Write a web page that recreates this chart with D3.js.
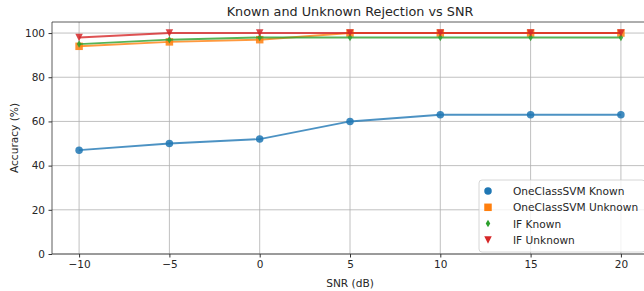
<!DOCTYPE html>
<html><head><meta charset="utf-8">
<script src="https://cdn.jsdelivr.net/npm/d3@7"></script>
<style>body{margin:0;background:#fff;}svg{display:block;font-family:"DejaVu Sans",sans-serif;}</style>
</head><body><svg id="c" width="644" height="291"></svg>
<script>
const snr = [-10, -5, 0, 5, 10, 15, 20];
const ocsvmKnown = [47, 50, 52, 60, 63, 63, 63];
const ocsvmUnknown = [94, 96, 97, 100, 100, 100, 100];
const ifKnown = [95, 97, 98, 98, 98, 98, 98];
const ifUnknown = [98, 100, 100, 100, 100, 100, 100];
const xTicks = [-10, -5, 0, 5, 10, 15, 20];
const yTicks = [0, 20, 40, 60, 80, 100];
const seriesNames = ["OneClassSVM Known", "OneClassSVM Unknown", "IF Known", "IF Unknown"];
const title = "Known and Unknown Rejection vs SNR";
const xLabel = "SNR (dB)";
const yLabel = "Accuracy (%)";

const colors = ["#1f77b4", "#ff7f0e", "#2ca02c", "#d62728"];
const markers = ["circle", "square", "thindiamond", "tridown"];
const series = [ocsvmKnown, ocsvmUnknown, ifKnown, ifUnknown];

const svg = d3.select("#c");
const L = 52, R = 648, T = 22, B = 254;
const x = d3.scaleLinear().domain([-11.5, 21.5]).range([L, R]);
const y = d3.scaleLinear().domain([0, 105]).range([B, T]);

const g = svg.append("g");
g.selectAll("line.gx").data(xTicks).join("line")
  .attr("x1", d => x(d)).attr("x2", d => x(d)).attr("y1", T).attr("y2", B)
  .attr("stroke", "#b0b0b0").attr("stroke-width", 0.8);
g.selectAll("line.gy").data(yTicks).join("line")
  .attr("x1", L).attr("x2", R).attr("y1", d => y(d)).attr("y2", d => y(d))
  .attr("stroke", "#b0b0b0").attr("stroke-width", 0.8);

function markerPath(type, s) {
  const h = s / 2;
  if (type === "circle") return d3.symbol(d3.symbolCircle, Math.PI * h * h)();
  if (type === "square") return `M${-h},${-h}H${h}V${h}H${-h}Z`;
  if (type === "thindiamond") return `M0,${-h}L${h*0.6},0L0,${h}L${-h*0.6},0Z`;
  if (type === "tridown") return `M${-h},${-h}L${h},${-h}L0,${h}Z`;
}

const line = d3.line().x((d, i) => x(snr[i])).y(d => y(d));
series.forEach((vals, k) => {
  const sg = svg.append("g");
  sg.append("path").datum(vals).attr("d", line)
    .attr("fill", "none").attr("stroke", colors[k]).attr("stroke-width", 1.9)
    .attr("stroke-opacity", 0.8);
  sg.selectAll("path.m").data(vals).join("path")
    .attr("transform", (d, i) => `translate(${x(snr[i])},${y(d)})`)
    .attr("d", markerPath(markers[k], 7.5))
    .attr("fill", colors[k]).attr("fill-opacity", 0.85);
});

const xAxis = d3.axisBottom(x).tickValues(xTicks).tickSize(3.5).tickPadding(3.5)
  .tickFormat(d => d < 0 ? "\u2212" + Math.abs(d) : d);
const ax = svg.append("g").attr("transform", `translate(0,${B})`).call(xAxis);
const yAxis = d3.axisLeft(y).tickValues(yTicks).tickSize(3.5).tickPadding(3.5);
const ay = svg.append("g").attr("transform", `translate(${L},0)`).call(yAxis);
[ax, ay].forEach(a => {
  a.select(".domain").remove();
  a.selectAll("text").attr("font-size", 10.5).attr("fill", "#262626").attr("font-family", "DejaVu Sans");
  a.selectAll("line").attr("stroke", "#333");
});
const sp = svg.append("g").attr("stroke", "#333").attr("stroke-width", 0.8).attr("fill", "none");
sp.append("line").attr("x1", L).attr("x2", R).attr("y1", T).attr("y2", T);
sp.append("line").attr("x1", L).attr("x2", R).attr("y1", B).attr("y2", B);
sp.append("line").attr("x1", L).attr("x2", L).attr("y1", T).attr("y2", B);
sp.append("line").attr("x1", R).attr("x2", R).attr("y1", T).attr("y2", B);

svg.append("text").attr("x", (L + R) / 2).attr("y", 16).attr("text-anchor", "middle")
  .attr("font-size", 12.8).attr("fill", "#262626").text(title);
svg.append("text").attr("x", (L + R) / 2).attr("y", 287).attr("text-anchor", "middle")
  .attr("font-size", 10.6).attr("fill", "#262626").text(xLabel);
svg.append("text").attr("transform", `translate(18,${(T + B) / 2}) rotate(-90)`)
  .attr("text-anchor", "middle").attr("font-size", 10.6).attr("fill", "#262626").text(yLabel);

const lg = svg.append("g").attr("transform", "translate(479,180)");
lg.append("rect").attr("width", 166).attr("height", 72).attr("rx", 3)
  .attr("fill", "#fff").attr("fill-opacity", 0.8).attr("stroke", "#cccccc").attr("stroke-width", 0.8);
seriesNames.forEach((n, k) => {
  const row = lg.append("g").attr("transform", `translate(0,${11 + k * 16.3})`);
  row.append("path").attr("transform", "translate(9,0)").attr("d", markerPath(markers[k], 7.5))
    .attr("fill", colors[k]);
  row.append("text").attr("x", 34).attr("y", 3.9).attr("font-size", 10.6).attr("fill", "#262626").text(n);
});
</script></body></html>
